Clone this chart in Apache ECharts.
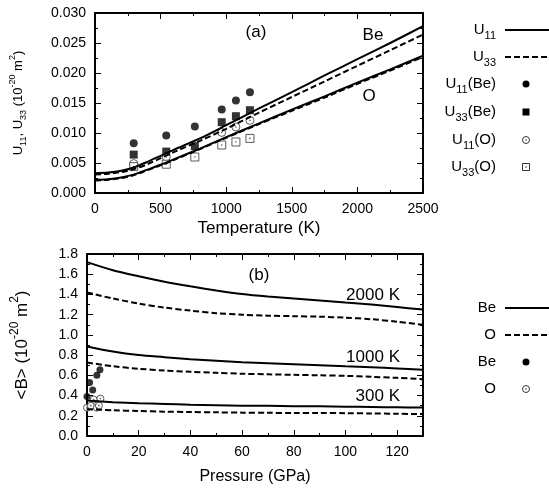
<!DOCTYPE html>
<html>
<head>
<meta charset="utf-8">
<script src="https://cdn.jsdelivr.net/npm/echarts@6/dist/echarts.min.js"></script>
<style>
html,body{margin:0;padding:0;background:#fff;}
#chart{width:549px;height:488px;}
</style>
</head>
<body>
<div id="chart"></div>
<script>
// ---------- Panel (a): thermal displacement vs temperature ----------
const temperatureK = [0, 100, 200, 300, 400, 500, 600, 800, 1000, 1250, 1500, 1750, 2000, 2250, 2500];
const u11BeCalc = [0.0033, 0.0034, 0.0037, 0.0043, 0.0052, 0.0062, 0.0072, 0.0091, 0.0113, 0.0141, 0.0168, 0.0196, 0.0223, 0.0250, 0.0278];
const u33BeCalc = [0.0031, 0.0032, 0.0035, 0.0040, 0.0048, 0.0058, 0.0068, 0.0087, 0.0107, 0.0134, 0.0160, 0.0186, 0.0212, 0.0238, 0.0264];
const u11OCalc  = [0.0022, 0.0023, 0.0026, 0.0031, 0.0039, 0.0047, 0.0056, 0.0074, 0.0093, 0.0116, 0.0139, 0.0161, 0.0184, 0.0206, 0.0229];
const u33OCalc  = [0.0021, 0.0022, 0.0025, 0.0030, 0.0038, 0.0046, 0.0055, 0.0073, 0.0092, 0.0115, 0.0137, 0.0159, 0.0182, 0.0204, 0.0227];

const expTempK    = [295, 543, 761, 966, 1074, 1181];
const u11BeExp    = [0.0083, 0.0096, 0.0111, 0.0139, 0.0154, 0.0168];
const u33BeExp    = [0.0064, 0.0069, 0.0078, 0.0118, 0.0128, 0.0138];
const expTempOU11 = [295, 543, 966, 1074, 1181];
const u11OExp     = [0.0049, 0.0060, 0.0101, 0.0110, 0.0121];
const u33OExp     = [0.0044, 0.0048, 0.0060, 0.0080, 0.0085, 0.0091];

const tempTicks = [0, 500, 1000, 1500, 2000, 2500];
const uTicks = [0.000, 0.005, 0.010, 0.015, 0.020, 0.025, 0.030];

// ---------- Panel (b): <B> vs pressure ----------
const pressureGPa = [0, 10, 20, 30, 40, 50, 60, 70, 80, 90, 100, 110, 120, 130];
const b2000Be = [1.72, 1.64, 1.58, 1.525, 1.48, 1.44, 1.405, 1.38, 1.36, 1.34, 1.32, 1.30, 1.275, 1.25];
const b2000O  = [1.42, 1.36, 1.31, 1.27, 1.24, 1.215, 1.20, 1.19, 1.185, 1.18, 1.17, 1.155, 1.13, 1.10];
const b1000Be = [0.886, 0.835, 0.80, 0.78, 0.76, 0.745, 0.73, 0.72, 0.71, 0.70, 0.69, 0.68, 0.668, 0.655];
const b1000O  = [0.727, 0.69, 0.665, 0.648, 0.635, 0.625, 0.616, 0.61, 0.605, 0.60, 0.595, 0.585, 0.575, 0.562];
const b300Be  = [0.35, 0.335, 0.325, 0.317, 0.31, 0.305, 0.30, 0.298, 0.295, 0.293, 0.29, 0.287, 0.284, 0.281];
const b300O   = [0.265, 0.255, 0.247, 0.241, 0.237, 0.234, 0.231, 0.229, 0.228, 0.227, 0.226, 0.223, 0.22, 0.217];

const expPressBe = [0.0, 1.0, 2.2, 3.8, 5.0];
const bBeExp     = [0.39, 0.53, 0.455, 0.60, 0.655];
const expPressO  = [0.0, 1.5, 2.6, 3.8, 4.6, 5.2];
const bOExp      = [0.28, 0.30, 0.36, 0.28, 0.30, 0.37];

const pressTicks = [0, 20, 40, 60, 80, 100, 120];
const bTicks = [0.0, 0.2, 0.4, 0.6, 0.8, 1.0, 1.2, 1.4, 1.6, 1.8];

const tempLabels = ['Be', 'O'];
const isoLabels = ['2000 K', '1000 K', '300 K'];

// ---------- helpers ----------
const FONT = 'Liberation Sans, Arial, sans-serif';
const zip = (xs, ys) => xs.map((x, i) => [x, ys[i]]);

function axis(gridIndex, position, min, max, interval, tickLen, extra) {
  return Object.assign({
    gridIndex: gridIndex, type: 'value', position: position, min: min, max: max, interval: interval,
    axisLine: { show: true, onZero: false, lineStyle: { color: '#000', width: 1.5 } },
    axisTick: { show: true, inside: true, length: tickLen, lineStyle: { color: '#000', width: 1 } },
    splitLine: { show: false },
    axisLabel: { show: false }
  }, extra || {});
}

const rich = {
  m: { fontSize: 15, fontFamily: FONT, color: '#000', lineHeight: 22 },
  s: { fontSize: 11, fontFamily: FONT, color: '#000', lineHeight: 11, verticalAlign: 'bottom' }
};
const richAxisA = {
  m: { fontSize: 13, fontFamily: FONT, color: '#000', lineHeight: 20 },
  s: { fontSize: 9, fontFamily: FONT, color: '#000', lineHeight: 9, verticalAlign: 'bottom' },
  p: { fontSize: 9, fontFamily: FONT, color: '#000', lineHeight: 9, verticalAlign: 'top' }
};
const richAxisB = {
  m: { fontSize: 17, fontFamily: FONT, color: '#000', lineHeight: 26 },
  p: { fontSize: 12, fontFamily: FONT, color: '#000', lineHeight: 12, verticalAlign: 'top' }
};

const chart = echarts.init(document.getElementById('chart'));

const lineStyleSolid = { color: '#000', width: 2 };
const lineStyleDash = { color: '#000', width: 2, type: [6, 3] };

function lineSeries(data, dashed, xi, yi) {
  return {
    type: 'line', data: data, xAxisIndex: xi, yAxisIndex: yi,
    showSymbol: false, smooth: 0.3,
    itemStyle: { color: '#000' },
    lineStyle: dashed ? lineStyleDash : lineStyleSolid
  };
}
function scatterSeries(data, symbol, size, filled, xi, yi) {
  return {
    type: 'scatter', data: data, xAxisIndex: xi, yAxisIndex: yi, clip: false,
    symbol: symbol, symbolSize: size,
    itemStyle: filled ? { color: '#000' } : { color: '#fff', borderColor: '#333', borderWidth: 1 }
  };
}
function dotSeries(data, xi, yi) {
  return {
    type: 'scatter', data: data, xAxisIndex: xi, yAxisIndex: yi, clip: false,
    symbol: 'circle', symbolSize: 1.6, itemStyle: { color: '#333' }
  };
}

// legend drawn as graphic (right-aligned labels with sample marks)
const legendTop = [
  { text: '{m|U}{s|11}', kind: 'solid', y: 30 },
  { text: '{m|U}{s|33}', kind: 'dash', y: 57 },
  { text: '{m|U}{s|11}{m|(Be)}', kind: 'dot', y: 84 },
  { text: '{m|U}{s|33}{m|(Be)}', kind: 'square', y: 112 },
  { text: '{m|U}{s|11}{m|(O)}', kind: 'ocircle', y: 140 },
  { text: '{m|U}{s|33}{m|(O)}', kind: 'osquare', y: 167 }
];
const legendBottom = [
  { text: '{m|Be}', kind: 'solid', y: 308 },
  { text: '{m|O}', kind: 'dash', y: 335 },
  { text: '{m|Be}', kind: 'dot', y: 362 },
  { text: '{m|O}', kind: 'ocircle', y: 389 }
];
const graphics = [];
[...legendTop, ...legendBottom].forEach(it => {
  graphics.push({ type: 'text', style: { text: it.text, rich: rich, x: 496, y: it.y, align: 'right', verticalAlign: 'middle' } });
  const cx = 526;
  if (it.kind === 'solid' || it.kind === 'dash') {
    graphics.push({ type: 'line', shape: { x1: 505, y1: it.y, x2: 552, y2: it.y },
      style: { stroke: '#000', lineWidth: 2, lineDash: it.kind === 'dash' ? [6, 3] : null } });
  } else if (it.kind === 'dot') {
    graphics.push({ type: 'circle', shape: { cx: cx, cy: it.y, r: 3.5 }, style: { fill: '#000' } });
  } else if (it.kind === 'square') {
    graphics.push({ type: 'rect', shape: { x: cx - 3.5, y: it.y - 3.5, width: 7, height: 7 }, style: { fill: '#000' } });
  } else if (it.kind === 'ocircle') {
    graphics.push({ type: 'circle', shape: { cx: cx, cy: it.y, r: 3.5 }, style: { fill: '#fff', stroke: '#333', lineWidth: 1 } });
    graphics.push({ type: 'circle', shape: { cx: cx, cy: it.y, r: 0.8 }, style: { fill: '#333' } });
  } else if (it.kind === 'osquare') {
    graphics.push({ type: 'rect', shape: { x: cx - 3.5, y: it.y - 3.5, width: 7, height: 7 }, style: { fill: '#fff', stroke: '#333', lineWidth: 1 } });
    graphics.push({ type: 'circle', shape: { cx: cx, cy: it.y, r: 0.8 }, style: { fill: '#333' } });
  }
});
// panel annotations
const annStyle = { fontSize: 17, fontFamily: FONT, fill: '#000' };
graphics.push({ type: 'text', style: Object.assign({ text: '(a)', x: 256, y: 32, align: 'center', verticalAlign: 'middle' }, annStyle) });
graphics.push({ type: 'text', style: Object.assign({ text: tempLabels[0], x: 373, y: 35, align: 'center', verticalAlign: 'middle' }, annStyle) });
graphics.push({ type: 'text', style: Object.assign({ text: tempLabels[1], x: 369, y: 96, align: 'center', verticalAlign: 'middle' }, annStyle) });
graphics.push({ type: 'text', style: Object.assign({ text: '(b)', x: 259, y: 275, align: 'center', verticalAlign: 'middle' }, annStyle) });
graphics.push({ type: 'text', style: Object.assign({ text: isoLabels[0], x: 400, y: 295, align: 'right', verticalAlign: 'middle' }, annStyle) });
graphics.push({ type: 'text', style: Object.assign({ text: isoLabels[1], x: 400, y: 357, align: 'right', verticalAlign: 'middle' }, annStyle) });
graphics.push({ type: 'text', style: Object.assign({ text: isoLabels[2], x: 400, y: 396, align: 'right', verticalAlign: 'middle' }, annStyle) });

const tMin = tempTicks[0], tMax = tempTicks[tempTicks.length - 1];
const uMin = uTicks[0], uMax = uTicks[uTicks.length - 1];
const pMin = pressTicks[0], pMax = 130;
const bMin = bTicks[0], bMax = bTicks[bTicks.length - 1];
const labelBase = { show: true, color: '#000', fontSize: 14, fontFamily: FONT, margin: 9 };
// pressure axis: 130 is not a multiple of 20, so run the axis at interval 10
// and place the major ticks / labels at pressTicks explicitly
const pressMajorTick = { show: true, inside: true, length: 6, lineStyle: { color: '#000', width: 1 }, customValues: pressTicks };

const option = {
  animation: false,
  grid: [
    { left: 87, top: 13, width: 336, height: 180, show: true, borderColor: '#000', borderWidth: 1.5, backgroundColor: 'transparent' },
    { left: 87, top: 254, width: 336, height: 182, show: true, borderColor: '#000', borderWidth: 1.5, backgroundColor: 'transparent' }
  ],
  xAxis: [
    axis(0, 'bottom', tMin, tMax, 500, 6, {
      axisLabel: Object.assign({}, labelBase, { formatter: v => String(v) }),
      name: 'Temperature (K)', nameLocation: 'middle', nameGap: 27,
      nameTextStyle: { fontSize: 17, fontFamily: FONT, color: '#000' } }),
    axis(0, 'bottom', tMin, tMax, 250, 3),
    axis(0, 'top', tMin, tMax, 500, 6),
    axis(0, 'top', tMin, tMax, 250, 3),
    axis(1, 'bottom', pMin, pMax, 10, 6, {
      axisTick: pressMajorTick,
      axisLabel: Object.assign({}, labelBase, { customValues: pressTicks, formatter: v => String(v) }),
      name: 'Pressure (GPa)', nameLocation: 'middle', nameGap: 33,
      nameTextStyle: { fontSize: 16, fontFamily: FONT, color: '#000' } }),
    axis(1, 'bottom', pMin, pMax, 10, 3),
    axis(1, 'top', pMin, pMax, 10, 6, { axisTick: pressMajorTick }),
    axis(1, 'top', pMin, pMax, 10, 3)
  ],
  yAxis: [
    axis(0, 'left', uMin, uMax, 0.005, 6, {
      axisLabel: Object.assign({}, labelBase, { formatter: v => v.toFixed(3) }),
      name: '{m|U}{s|11}{m|, U}{s|33}{m| (10}{p|-20}{m| m}{p|2}{m|)}', nameLocation: 'middle', nameGap: 67,
      nameTextStyle: { rich: richAxisA } }),
    axis(0, 'left', uMin, uMax, 0.0025, 3),
    axis(0, 'right', uMin, uMax, 0.005, 6),
    axis(0, 'right', uMin, uMax, 0.0025, 3),
    axis(1, 'left', bMin, bMax, 0.2, 6, {
      axisLabel: Object.assign({}, labelBase, { formatter: v => v.toFixed(1) }),
      name: '{m|<B> (10}{p|-20}{m| m}{p|2}{m|)}', nameLocation: 'middle', nameGap: 52,
      nameTextStyle: { rich: richAxisB } }),
    axis(1, 'left', bMin, bMax, 0.1, 3),
    axis(1, 'right', bMin, bMax, 0.2, 6),
    axis(1, 'right', bMin, bMax, 0.1, 3)
  ],
  graphic: graphics,
  series: [
    lineSeries(zip(temperatureK, u11BeCalc), false, 0, 0),
    lineSeries(zip(temperatureK, u33BeCalc), true, 0, 0),
    lineSeries(zip(temperatureK, u11OCalc), false, 0, 0),
    lineSeries(zip(temperatureK, u33OCalc), true, 0, 0),
    scatterSeries(zip(expTempK, u11BeExp), 'circle', 8, true, 0, 0),
    scatterSeries(zip(expTempK, u33BeExp), 'rect', 8, true, 0, 0),
    scatterSeries(zip(expTempOU11, u11OExp), 'circle', 8, false, 0, 0),
    dotSeries(zip(expTempOU11, u11OExp), 0, 0),
    scatterSeries(zip(expTempK, u33OExp), 'rect', 8, false, 0, 0),
    dotSeries(zip(expTempK, u33OExp), 0, 0),

    lineSeries(zip(pressureGPa, b2000Be), false, 4, 4),
    lineSeries(zip(pressureGPa, b2000O), true, 4, 4),
    lineSeries(zip(pressureGPa, b1000Be), false, 4, 4),
    lineSeries(zip(pressureGPa, b1000O), true, 4, 4),
    lineSeries(zip(pressureGPa, b300Be), false, 4, 4),
    lineSeries(zip(pressureGPa, b300O), true, 4, 4),
    scatterSeries(zip(expPressO, bOExp), 'circle', 7, false, 4, 4),
    dotSeries(zip(expPressO, bOExp), 4, 4),
    scatterSeries(zip(expPressBe, bBeExp), 'circle', 7, true, 4, 4)
  ]
};
chart.setOption(option);
</script>
</body>
</html>
